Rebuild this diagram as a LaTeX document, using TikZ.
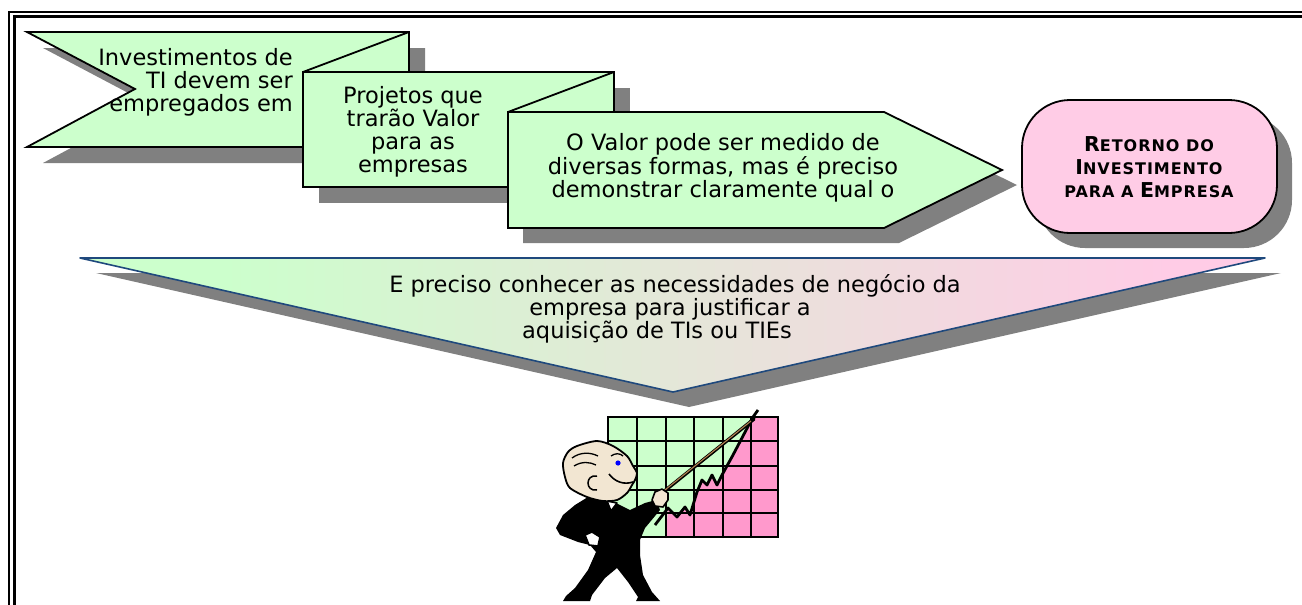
\documentclass[tikz,border=0pt]{standalone}
\usepackage{fontspec}
\setmainfont{DejaVu Sans}
\usetikzlibrary{calc}

\definecolor{boxgreen}{HTML}{CCFFCC}
\definecolor{boxpink}{HTML}{FFCCE6}
\definecolor{shadowgray}{HTML}{808080}
\definecolor{tridblue}{HTML}{1F497D}
\definecolor{chartgreen}{HTML}{CCFFCC}
\definecolor{chartpink}{HTML}{FF99CC}
\definecolor{skin}{HTML}{F2E6D2}
\definecolor{stickbrown}{HTML}{B08050}

% green on the left, pink on the right, blended in the middle
\pgfdeclarehorizontalshading{greenpink}{100bp}{color(0bp)=(boxgreen); color(31bp)=(boxgreen); color(71bp)=(boxpink); color(100bp)=(boxpink)}

\newcommand{\bigsc}[1]{{\fontsize{20.5}{20.5}\selectfont #1}}

\begin{document}
\begin{tikzpicture}[x=1pt,y=-1pt,
  shadow/.style={fill=shadowgray},
  stepshape/.style={fill=boxgreen,draw=black,line width=1.8pt,line join=miter},
  caption/.style={inner sep=0pt,font=\fontsize{22.5}{23}\selectfont,align=center},
  frameline/.style={line width=2.4pt},
  gridline/.style={line width=2.2pt,line cap=round},
  outline/.style={draw=black,line width=1.6pt,line join=round}
]
\useasboundingbox (0,0) rectangle (1302,605);

% double frame
\draw[frameline] (9,12) rectangle (1330,640);
\draw[frameline] (14.5,16.5) rectangle (1325,635);

% first step: notched banner
\fill[shadow,shift={(16,16)}] (27,32) -- (409,32) -- (409,147) -- (27,147) -- (135,89) -- cycle;
\path[stepshape] (27,32) -- (409,32) -- (409,147) -- (27,147) -- (135,89) -- cycle;

% second step
\fill[shadow,shift={(16,16)}] (303,72) rectangle (614,187);
\path[stepshape] (303,72) rectangle (614,187);
\draw[line width=1.8pt] (409,32) -- (303,72);

% third step: pointed arrow
\fill[shadow,shift={(15,15)}] (508,112) -- (884,112) -- (1002,170) -- (884,228) -- (508,228) -- cycle;
\path[stepshape] (508,112) -- (884,112) -- (1002,170) -- (884,228) -- (508,228) -- cycle;
\draw[line width=1.8pt] (614,72) -- (508,112);

% result box
\fill[shadow,rounded corners=48pt,shift={(15,15)}] (1022,100) rectangle (1277,233);
\path[fill=boxpink,draw=black,line width=1.8pt,rounded corners=48pt] (1022,100) rectangle (1277,233);

% wide funnel triangle
\fill[shadow,shift={(16,15)}] (80,258) -- (1265,258) -- (673,392) -- cycle;
\shade[shading=greenpink] (80,258) -- (1265,258) -- (673,392) -- cycle;
\draw[draw=tridblue,line width=1.6pt,line join=round] (80,258) -- (1265,258) -- (673,392) -- cycle;

% texts
\node[caption,align=right,anchor=east] (t1) at (293,82) {Investimentos de\\TI devem ser\\empregados em};
\node[caption] (t2) at (413,132) {Projetos que\\trarão Valor\\para as\\empresas};
\node[caption,font=\fontsize{22.5}{21.5}\selectfont] (t3) at (723,168) {O Valor pode ser medido de\\diversas formas, mas é preciso\\demonstrar claramente qual o};
\node[inner sep=0pt,align=center,font=\fontsize{16}{23}\selectfont\bfseries\addfontfeature{LetterSpace=6}] (t4) at (1149,167)
  {\bigsc{R}ETORNO DO\\\bigsc{I}NVESTIMENTO\\PARA A \bigsc{E}MPRESA};
\node[caption,font=\fontsize{22.5}{21.5}\selectfont] (t5) at (670,309)
  {\hspace*{10pt}E preciso conhecer as necessidades de negócio da\\empresa para justificar a\hspace*{0pt}\\aquisição de TIs ou TIEs\hspace*{26pt}};

% chart board
\fill[chartgreen] (608,417) rectangle (778,537);
\fill[chartpink] (666,537) -- (668,508) -- (677,517) -- (685,507) -- (690,515) -- (697,492)
  -- (702,480) -- (707,485) -- (712,475) -- (717,485) -- (722,475) -- (733,455) -- (753,417)
  -- (778,417) -- (778,537) -- cycle;
\foreach \gx in {637,666,694,723,751} \draw[gridline] (\gx,417) -- (\gx,537);
\foreach \gy in {441,466,490,513} \draw[gridline] (608,\gy) -- (778,\gy);
\draw[line width=2.6pt] (608,417) rectangle (778,537);
\draw[line width=2.8pt,line join=round] (655,525) -- (668,508) -- (677,517) -- (685,507) -- (690,515)
  -- (697,492) -- (702,480) -- (707,485) -- (712,475) -- (717,485) -- (722,475) -- (733,455) -- (753,417) -- (758,410);

% presenter: pointer stick
\draw[line width=3.4pt,line cap=round] (657,497) -- (754,419);
\draw[line width=1.1pt,stickbrown] (660,494) -- (751,421);

% presenter: suit
\fill[black,line join=round] (588,497) -- (575,505) -- (563,515) -- (556,528) -- (560,535) -- (578,542)
  -- (590,545) -- (596,552) -- (588,570) -- (575,588) -- (566,596) -- (563,601) -- (590,601)
  -- (592,595) -- (605,578) -- (617,568) -- (628,582) -- (638,597) -- (636,601) -- (660,601)
  -- (652,592) -- (643,575) -- (640,555) -- (640,540) -- (645,528) -- (660,510) -- (656,500)
  -- (645,503) -- (630,510) -- (620,505) -- (610,500) -- cycle;
% collar
\path[fill=white,outline] (607,501) -- (617,503) -- (611,511) -- cycle;
% hand on hip
\path[fill=white,outline] (585,535) -- (592,532) -- (600,537) -- (598,546) -- (589,545) -- cycle;
% pointing hand
\path[fill=skin,outline] (652,500) -- (655,492) -- (662,489) -- (668,493) -- (668,500) -- (663,507) -- (655,506) -- cycle;

% presenter: head
\path[fill=skin,outline,line width=1.8pt] plot[smooth cycle] coordinates {(587,497) (570,488) (565,477) (563,463) (568,452)
  (577,446) (597,441) (613,446) (627,456) (633,466) (637,473) (635,480) (632,485) (627,493) (617,500) (603,501)};
\draw[line width=1.5pt] (597,476) .. controls (585,474) and (585,492) .. (597,490);
\draw[line width=1.3pt] (572,458) .. controls (580,452) and (590,452) .. (598,456);
\draw[line width=1.3pt] (574,466) .. controls (582,461) and (590,462) .. (596,465);
\draw[line width=1.3pt] (611,456) .. controls (615,453) and (620,453) .. (623,456);
\fill[blue] (618,463) circle[radius=2.6pt];
\draw[line width=1.6pt] (609,474) .. controls (615,482) and (624,485) .. (633,482);
\end{tikzpicture}
\end{document}
